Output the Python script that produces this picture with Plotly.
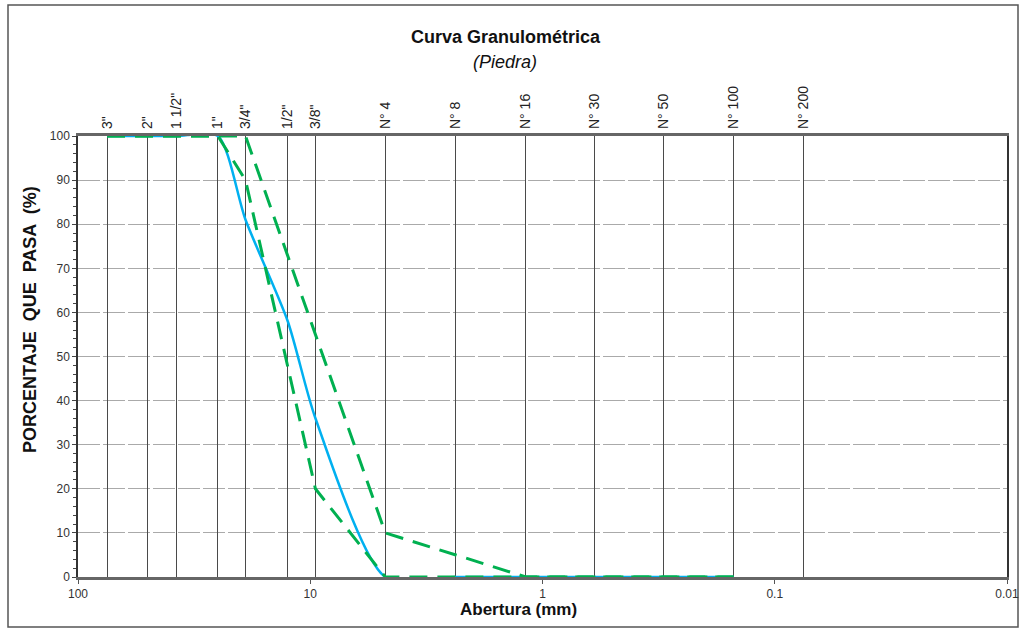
import plotly.graph_objects as go

# ---- data ----
sieve_sizes = [75, 50, 37.5, 25, 19, 12.5, 9.5, 4.75, 2.36, 1.18, 0.6, 0.3, 0.15, 0.075]
sieve_labels = ['3"', '2"', '1 1/2"', '1"', '3/4"', '1/2"', '3/8"', 'N° 4', 'N° 8',
                'N° 16', 'N° 30', 'N° 50', 'N° 100', 'N° 200']

sample_x = [75, 50, 37.5, 25, 19, 12.5, 9.5, 4.75, 2.36, 1.18, 0.6, 0.3, 0.15]
sample_y = [100, 100, 100, 100, 81, 58, 36, 0, 0, 0, 0, 0, 0]

lower_x = [75, 50, 37.5, 25, 19, 9.5, 4.75, 2.36, 1.18, 0.6, 0.3, 0.15]
lower_y = [100, 100, 100, 100, 90, 20, 0, 0, 0, 0, 0, 0]

upper_x = [75, 50, 37.5, 25, 19, 9.5, 4.75, 2.36, 1.18, 0.6, 0.3, 0.15]
upper_y = [100, 100, 100, 100, 100, 55, 10, 5, 0, 0, 0, 0]

x_ticks = [100, 10, 1, 0.1, 0.01]
x_ticktext = ['100', '10', '1', '0.1', '0.01']
y_ticks = [0, 10, 20, 30, 40, 50, 60, 70, 80, 90, 100]

FONT = "Liberation Sans, Arial, sans-serif"
GREEN = "#00B050"
BLUE = "#00B0F0"

fig = go.Figure()

fig.add_trace(go.Scatter(x=sample_x, y=sample_y, mode="lines",
                         line=dict(color=BLUE, width=2.5, shape="spline", smoothing=0.7),
                         cliponaxis=False, showlegend=False))
fig.add_trace(go.Scatter(x=lower_x, y=lower_y, mode="lines",
                         line=dict(color=GREEN, width=3, dash="18px,10px"),
                         cliponaxis=False, showlegend=False))
fig.add_trace(go.Scatter(x=upper_x, y=upper_y, mode="lines",
                         line=dict(color=GREEN, width=3, dash="18px,10px"),
                         cliponaxis=False, showlegend=False))
# invisible trace to activate the top axis
fig.add_trace(go.Scatter(x=[10], y=[50], xaxis="x2", mode="markers",
                         marker=dict(opacity=0), showlegend=False, hoverinfo="skip"))

L, R, T, B = 78, 16, 136, 53
W, H = 1023, 630
pw, ph = W - L - R, H - T - B

def px(xp):
    return (xp - L) / pw

def py(yp):
    return (H - B - yp) / ph

fig.update_layout(
    width=W, height=H,
    margin=dict(l=L, r=R, t=T, b=B, autoexpand=False),
    paper_bgcolor="white", plot_bgcolor="white",
    font=dict(family=FONT, size=12, color="#222"),
    xaxis=dict(type="log", range=[2, -2], tickvals=x_ticks, ticktext=x_ticktext,
               ticks="outside", ticklen=4, tickcolor="#555", showgrid=False,
               showline=True, linecolor="#666", linewidth=2.5, mirror=True,
               zeroline=False, layer="below traces", automargin=False,
               tickfont=dict(size=12, color="#333")),
    xaxis2=dict(type="log", range=[2, -2], overlaying="x", side="top",
                tickvals=sieve_sizes, ticktext=sieve_labels, tickangle=-90,
                ticks="", showgrid=True, gridcolor="#4a4a4a", gridwidth=1,
                showline=False, zeroline=False, layer="below traces",
                automargin=False, ticklabelstandoff=6,
                tickfont=dict(size=14, color="#222")),
    yaxis=dict(range=[0, 100], tickvals=y_ticks, ticks="outside", ticklen=4,
               tickcolor="#444", showgrid=True, gridcolor="#aaaaaa", gridwidth=1,
               griddash="22px,3px", showline=True, linecolor="#333", linewidth=1.5,
               mirror=True, zeroline=False, layer="below traces", automargin=False,
               minor=dict(dtick=2, ticks="outside", ticklen=3, tickcolor="#444",
                          showgrid=False),
               tickfont=dict(size=12, color="#333")),
)

fig.add_annotation(text="<b>Curva Granulométrica</b>", xref="paper", yref="paper",
                   x=px(506), y=py(37), showarrow=False, xanchor="center", yanchor="middle",
                   font=dict(size=18, family=FONT, color="#111"))
fig.add_annotation(text="<i>(Piedra)</i>", xref="paper", yref="paper",
                   x=px(505), y=py(62), showarrow=False, xanchor="center", yanchor="middle",
                   font=dict(size=18, family=FONT, color="#111"))
fig.add_annotation(text="<b>PORCENTAJE  QUE  PASA  (%)</b>", xref="paper", yref="paper",
                   x=px(30), y=py(320), showarrow=False, textangle=-90,
                   xanchor="center", yanchor="middle",
                   font=dict(size=18, family=FONT, color="#111"))
fig.add_annotation(text="<b>Abertura (mm)</b>", xref="paper", yref="paper",
                   x=px(518), y=py(609), showarrow=False, xanchor="center", yanchor="middle",
                   font=dict(size=17, family=FONT, color="#111"))

fig.add_shape(type="rect", xref="paper", yref="paper",
              x0=px(8), x1=px(1018), y0=py(627), y1=py(5),
              line=dict(color="#555", width=1.5), layer="below")

fig.write_html("out.html")
